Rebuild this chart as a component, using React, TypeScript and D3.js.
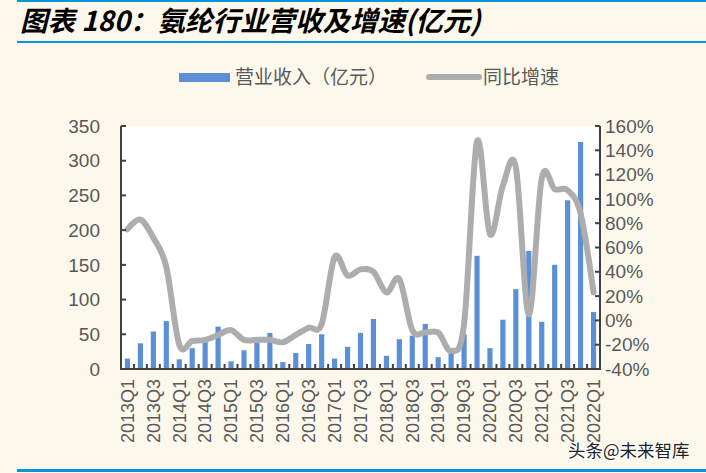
import React from "react";
import * as d3 from "d3";

const quarters = [
  "2013Q1","2013Q2","2013Q3","2013Q4",
  "2014Q1","2014Q2","2014Q3","2014Q4",
  "2015Q1","2015Q2","2015Q3","2015Q4",
  "2016Q1","2016Q2","2016Q3","2016Q4",
  "2017Q1","2017Q2","2017Q3","2017Q4",
  "2018Q1","2018Q2","2018Q3","2018Q4",
  "2019Q1","2019Q2","2019Q3","2019Q4",
  "2020Q1","2020Q2","2020Q3","2020Q4",
  "2021Q1","2021Q2","2021Q3","2021Q4",
  "2022Q1",
];

const revenue = [
  15, 37, 54, 69,
  14, 30, 40, 61,
  11, 27, 38, 52,
  10, 23, 36, 50,
  15, 32, 52, 72,
  19, 43, 48, 65,
  17, 28, 50, 163,
  30, 71, 115, 170,
  68, 150, 243, 327,
  82,
];

const growth = [
  75, 83, 68, 44,
  -20, -17, -16, -12,
  -8, -16, -16, -16,
  -18, -12, -6, -3,
  52, 37, 42, 40,
  23, 34, -8, -10,
  -10, -25, -3, 147,
  71, 111, 126, 5,
  117, 108, 107, 88,
  23,
];

const leftTicks = [0, 50, 100, 150, 200, 250, 300, 350];
const rightTicks = [-40, -20, 0, 20, 40, 60, 80, 100, 120, 140, 160];

const title = "图表 180：氨纶行业营收及增速(亿元)";
const legendBar = "营业收入（亿元）";
const legendLine = "同比增速";
const watermark = "头条@未来智库";

const W = 706;
const H = 473;
const plot = { left: 121, right: 600, top: 126, bottom: 369 };
const BAR = "#5B8FD6";
const LINE = "#ADADAD";
const AXIS = "#404040";
const TXT = "#595959";
const BLUE = "#0A94DA";
const BG = "#FDF8EC";
const FONT = "'Liberation Sans', Arial, 'Noto Sans CJK SC', sans-serif";
const CJK = "'Noto Sans CJK SC', 'Liberation Sans', sans-serif";

export default function App() {
  const x = d3.scaleBand<string>().domain(quarters).range([plot.left, plot.right]).paddingInner(0).paddingOuter(0);
  const step = x.step();
  const barW = step * 0.4;
  const yL = d3.scaleLinear().domain([0, 350]).range([plot.bottom, plot.top]);
  const yR = d3.scaleLinear().domain([-40, 160]).range([plot.bottom, plot.top]);
  const cx = (q: string) => (x(q) as number) + step / 2;

  const line = d3
    .line<number>()
    .x((_, i) => cx(quarters[i]))
    .y((d) => yR(d))
    .curve(d3.curveCardinal.tension(0));

  return (
    <div style={{ position: "fixed", left: 0, top: 0, width: W, height: H }}>
      <svg width={W} height={H} viewBox={`0 0 ${W} ${H}`} style={{ display: "block" }}>
        <rect x={0} y={0} width={W} height={H} fill={BG} />
        {/* title lines */}
        <rect x={17} y={0} width={W - 17} height={2} fill={BLUE} />
        <rect x={17} y={41} width={W - 17} height={2} fill={BLUE} />
        <rect x={17} y={469} width={W - 17} height={3} fill={BLUE} />
        <text
          x={20}
          y={31}
          fontFamily={CJK}
          fontSize={27.5}
          fontWeight="bold"
          fontStyle="italic"
          fill="#000"
        >
          {title}
        </text>

        {/* legend */}
        <rect x={179} y={73} width={51} height={9} fill={BAR} />
        <text x={235} y={84} fontFamily={CJK} fontSize={19} fill={TXT}>
          {legendBar}
        </text>
        <line x1={429} x2={479} y1={77} y2={77} stroke={LINE} strokeWidth={6} strokeLinecap="round" />
        <text x={483} y={84} fontFamily={CJK} fontSize={19} fill={TXT}>
          {legendLine}
        </text>

        {/* plot area */}
        <rect x={plot.left} y={plot.top} width={plot.right - plot.left} height={plot.bottom - plot.top} fill="#FFFFFF" />

        {/* bars */}
        {revenue.map((v, i) => (
          <rect
            key={quarters[i]}
            x={cx(quarters[i]) - barW / 2}
            y={yL(v)}
            width={barW}
            height={yL(0) - yL(v)}
            fill={BAR}
          />
        ))}

        {/* growth line */}
        <path d={line(growth) || ""} fill="none" stroke={LINE} strokeWidth={6} strokeLinejoin="round" strokeLinecap="round" />

        {/* axes */}
        <line x1={plot.left} x2={plot.left} y1={plot.top} y2={plot.bottom} stroke={AXIS} strokeWidth={2} />
        <line x1={plot.right} x2={plot.right} y1={plot.top} y2={plot.bottom} stroke={AXIS} strokeWidth={2} />
        <line x1={plot.left - 1} x2={plot.right + 1} y1={plot.bottom} y2={plot.bottom} stroke={AXIS} strokeWidth={2} />

        {leftTicks.map((t) => (
          <g key={"l" + t}>
            <line x1={plot.left} x2={plot.left + 5} y1={yL(t)} y2={yL(t)} stroke={AXIS} strokeWidth={2} />
            <text x={100} y={yL(t)} dy="0.35em" textAnchor="end" fontFamily={FONT} fontSize={19} fill={TXT}>
              {t}
            </text>
          </g>
        ))}
        {rightTicks.map((t) => (
          <g key={"r" + t}>
            <line x1={plot.right - 5} x2={plot.right} y1={yR(t)} y2={yR(t)} stroke={AXIS} strokeWidth={2} />
            <text x={605} y={yR(t)} dy="0.35em" textAnchor="start" fontFamily={FONT} fontSize={19} fill={TXT}>
              {t + "%"}
            </text>
          </g>
        ))}
        {quarters.map((q, i) =>
          i === 0 ? null : (
            <line key={"b" + q} x1={x(q) as number} x2={x(q) as number} y1={plot.bottom} y2={plot.bottom - 5} stroke={AXIS} strokeWidth={2} />
          )
        )}
        {quarters.map((q, i) =>
          i % 2 === 0 ? (
            <text
              key={"xl" + q}
              transform={`translate(${cx(q)},379) rotate(-90)`}
              dy="0.35em"
              textAnchor="end"
              fontFamily={FONT}
              fontSize={18}
              fill={TXT}
            >
              {q}
            </text>
          ) : null
        )}

        {/* watermark */}
        <text
          x={568}
          y={457}
          fontFamily={CJK}
          fontSize={17.5}
          fill="#222"
          stroke="#FFFFFF"
          strokeWidth={2}
          paintOrder="stroke"
        >
          {watermark}
        </text>
      </svg>
    </div>
  );
}
